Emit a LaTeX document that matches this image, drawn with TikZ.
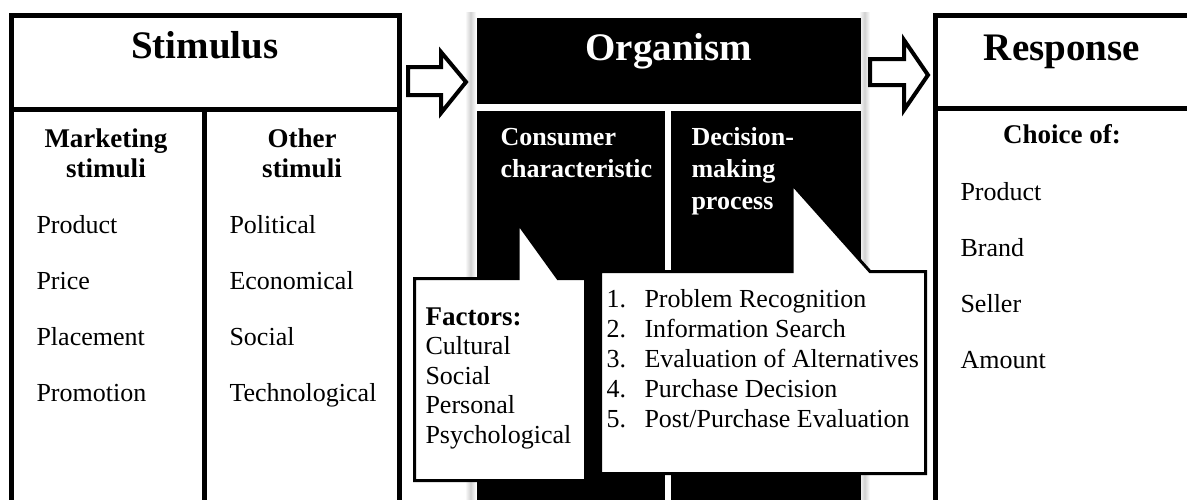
\documentclass[tikz,border=0pt]{standalone}
\usepackage{fontspec}
\setmainfont{Liberation Serif}
\usepackage{tikz}

\begin{document}
\begin{tikzpicture}[x=1pt, y=-1pt,
    title/.style={font=\fontsize{39}{44}\selectfont\bfseries, anchor=base},
    head/.style={font=\fontsize{27}{30}\selectfont\bfseries, anchor=base, align=center},
    item/.style={font=\fontsize{26}{30}\selectfont, anchor=base west},
    frame/.style={draw=black, line width=5pt},
    blockarrow/.style={draw=black, fill=white, line width=4pt, line join=miter},
    callout/.style={draw=black, fill=white, line width=3pt, line join=miter}]

    \useasboundingbox (0,0) rectangle (1187,499);
    \clip (0,0) rectangle (1187,499);
    \fill[white] (0,0) rectangle (1187,499);

    % Organism panel: soft side shadows
    \shade[left color=white, right color=white, middle color=black!18] (465,12) rectangle (476,510);
    \shade[left color=white, right color=white, middle color=black!18] (859,12) rectangle (870,510);

    % Organism header and the two columns
    \fill[black] (477,18) rectangle (861,104);
    \fill[black] (477,111) rectangle (665,510);
    \fill[black] (671,111) rectangle (861,510);
    \node[title, text=white] (organism) at (669,60) {Organism};
    % multi-line nodes sit on the baseline of their last line
    \node[head, text=white, align=left, anchor=base west, font=\fontsize{26}{32}\selectfont\bfseries] (consumer) at (497,177) {Consumer\\characteristic};
    \node[head, text=white, align=left, anchor=base west, font=\fontsize{26}{32}\selectfont\bfseries] (decision) at (688,209) {Decision-\\making\\process};

    % Stimulus box
    \draw[frame] (11.5,15) rectangle (399.5,520);
    \draw[frame] (11.5,109.5) -- (399.5,109.5);
    \draw[frame] (204.5,109.5) -- (204.5,520);
    \node[title] (stimulus) at (205,58) {Stimulus};
    \node[head] (marketing) at (106,177) {Marketing\\stimuli};
    \node[head] (other) at (302,177) {Other\\stimuli};
    \foreach \txt [count=\i] in {Product, Price, Placement, Promotion}
        \node[item] (mkt\i) at (33,177+56*\i) {\txt};
    \foreach \txt [count=\i] in {Political, Economical, Social, Technological}
        \node[item] (oth\i) at (226,177+56*\i) {\txt};

    % Response box
    \draw[frame] (935,15) rectangle (1200,520);
    \draw[frame] (935,108.5) -- (1200,108.5);
    \node[title] (response) at (1062,60) {Response};
    \node[head] (choice) at (1062,143) {Choice of:};
    \foreach \txt [count=\i] in {Product, Brand, Seller, Amount}
        \node[item] (resp\i) at (957,144+56*\i) {\txt};

    % Block arrows
    \draw[blockarrow] (408,67) -- (441,67) -- (441,52) -- (466,82) -- (441,113) -- (441,95) -- (408,95) -- cycle;
    \draw[blockarrow] (870,59) -- (904,59) -- (904,40) -- (928,75) -- (904,110) -- (904,85) -- (870,85) -- cycle;

    % Factors callout
    \draw[callout] (414.5,278.5) -- (518,278.5) -- (518,223) -- (558,278.5) -- (585.5,278.5)
        -- (585.5,480.5) -- (414.5,480.5) -- cycle;
    \node[item, font=\fontsize{27}{30}\selectfont\bfseries] (factors) at (422,325) {Factors:};
    \foreach \txt [count=\i] in {Cultural, Social, Personal, Psychological}
        \node[item] (fac\i) at (422,325+29.5*\i) {\txt};

    % Decision-making callout
    \draw[callout] (600.5,271.5) -- (792,271.5) -- (792,184) -- (870,271.5) -- (925.5,271.5)
        -- (925.5,473.5) -- (600.5,473.5) -- cycle;
    \foreach \txt [count=\i] in {Problem Recognition, Information Search, Evaluation of Alternatives, Purchase Decision, Post/Purchase Evaluation} {
        \node[item] (num\i) at (603,277+30*\i) {\i.};
        \node[item] (stage\i) at (641,277+30*\i) {\txt};
    }
\end{tikzpicture}
\end{document}
